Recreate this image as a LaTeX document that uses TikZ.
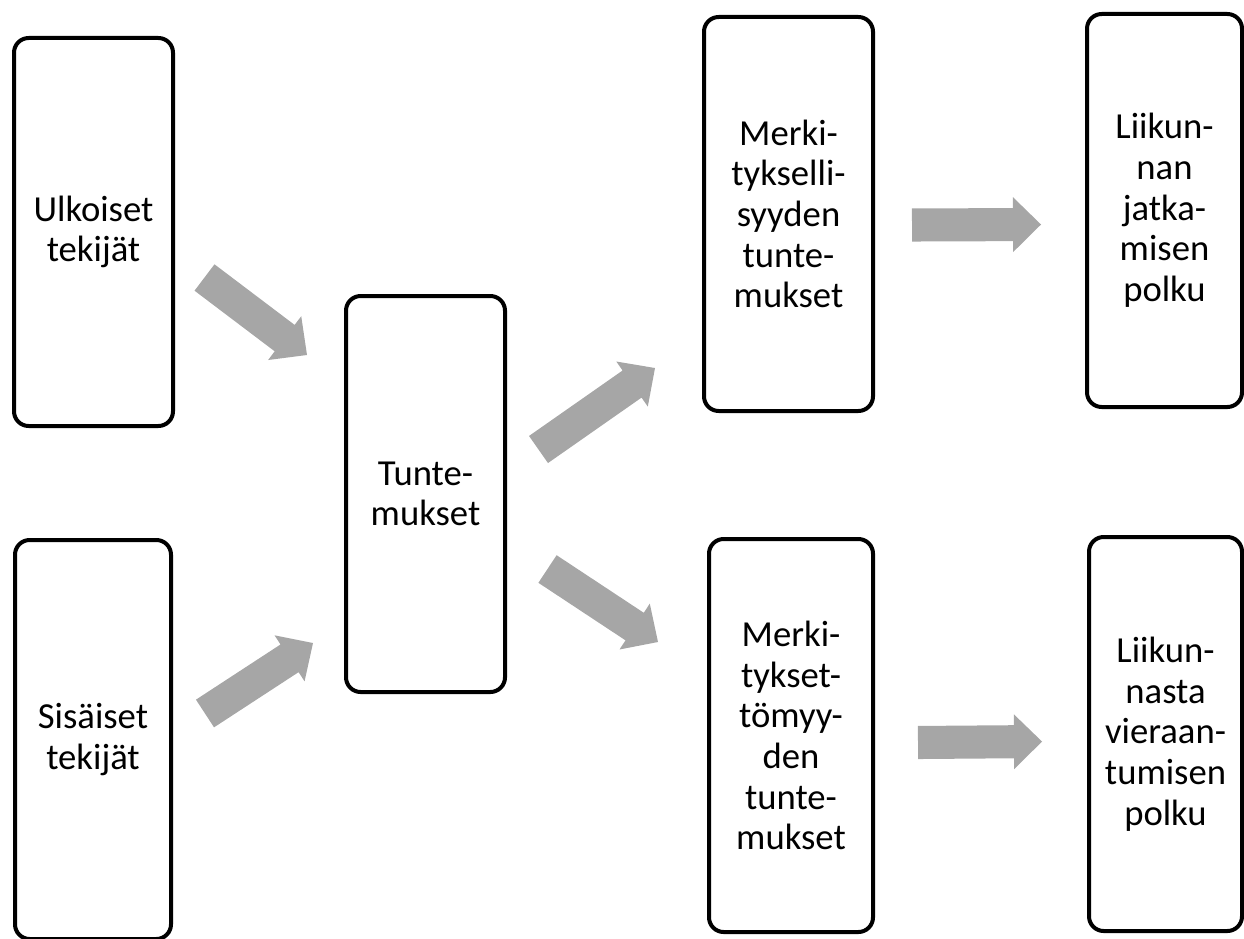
\documentclass[tikz,border=0pt]{standalone}
\usepackage{fontspec}
\setmainfont{Carlito}
\usetikzlibrary{calc}
\definecolor{arrowgray}{HTML}{A6A6A6}

% Wide block arrow from tail coordinate #1 to tip coordinate #2
\newcommand{\blockarrow}[2]{%
  \path ($(#2)!21pt!(#1)$) coordinate (#2-b);
  \fill[arrowgray]
    ($(#1)!12.4pt!90:(#2)$) -- ($(#2-b)!12.4pt!-90:(#1)$) --
    ($(#2-b)!20.6pt!-90:(#1)$) -- (#2) --
    ($(#2-b)!20.6pt!90:(#1)$) -- ($(#2-b)!12.4pt!90:(#1)$) --
    ($(#1)!12.4pt!-90:(#2)$) -- cycle;
}

\tikzset{
  box/.style 2 args={draw=black, line width=3pt, rounded corners=11pt,
    fill=white, inner sep=0pt, align=center,
    minimum width=#1*0.75pt, minimum height=#2*0.75pt,
    font=\fontsize{27.5}{30.5}\selectfont},
}

\begin{document}
\begin{tikzpicture}[x=0.75pt, y=-0.75pt]
  \useasboundingbox (0,0) rectangle (1244,938);

  % boxes
  \node[box={159}{388}] (ulk) at (93.5,232) {Ulkoiset\\tekijät};
  \node[box={156}{399}] (sis) at (93,739.5) {Sisäiset\\tekijät};
  \node[box={159}{396}] (tun) at (425.5,494) {Tunte-\\mukset};
  \node[box={169}{394}] (mer) at (788.5,214) {Merki-\\tykselli-\\syyden\\tunte-\\mukset};
  \node[box={155}{393}] (jat) at (1164.5,210.5) {Liikun-\\nan\\jatka-\\misen\\polku};
  \node[box={164}{393}] (mtt) at (791,735.5) {Merki-\\tykset-\\tömyy-\\den\\tunte-\\mukset};
  \node[box={153}{394}] (vie) at (1165.5,734) {Liikun-\\nasta\\vieraan-\\tumisen\\polku};

  % arrow end points
  \coordinate (a1t) at (204.5,277.5);  \coordinate (a1h) at (307,355);
  \coordinate (a2t) at (205,713.5);    \coordinate (a2h) at (313,643);
  \coordinate (a3t) at (538.5,449.5);  \coordinate (a3h) at (655,368);
  \coordinate (a4t) at (547.5,569);    \coordinate (a4h) at (658,642);
  \coordinate (a5t) at (912,225);      \coordinate (a5h) at (1041,224.5);
  \coordinate (a6t) at (918,742.5);    \coordinate (a6h) at (1042,741.5);

  % arrows
  \blockarrow{a1t}{a1h}
  \blockarrow{a2t}{a2h}
  \blockarrow{a3t}{a3h}
  \blockarrow{a4t}{a4h}
  \blockarrow{a5t}{a5h}
  \blockarrow{a6t}{a6h}
\end{tikzpicture}
\end{document}
